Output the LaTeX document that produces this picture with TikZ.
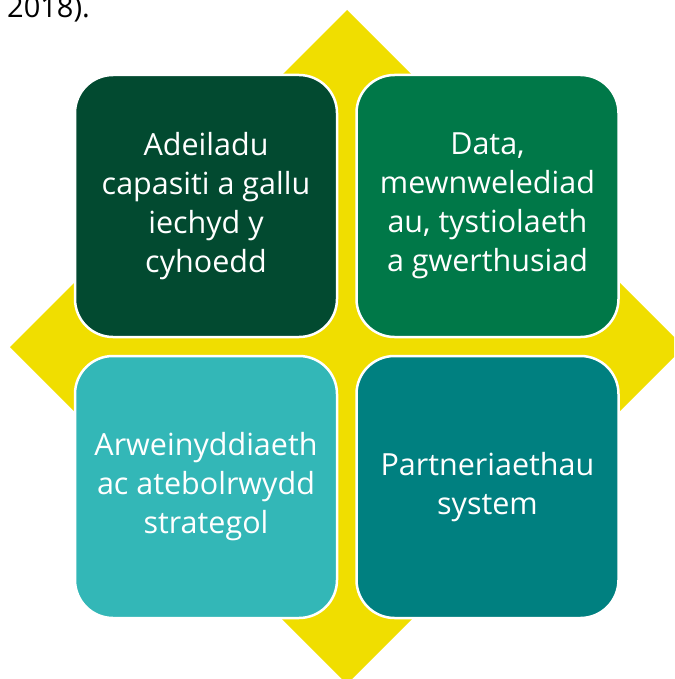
\documentclass[tikz,border=0pt]{standalone}
\usepackage{fontspec}
\setmainfont{Open Sans}
\definecolor{dia}{RGB}{240,222,0}
\definecolor{cTL}{RGB}{2,74,48}
\definecolor{cTR}{RGB}{0,120,72}
\definecolor{cBL}{RGB}{51,183,183}
\definecolor{cBR}{RGB}{0,128,128}
\tikzset{
  quad/.style={draw=white, line width=2.5pt, rounded corners=38pt,
    minimum width=262pt, minimum height=262pt, inner sep=0pt,
    text=white, align=center, font=\fontsize{30.5}{39}\selectfont},
}
\begin{document}
\begin{tikzpicture}[x=1pt,y=-1pt]
\useasboundingbox (0,0) rectangle (674,679);
\clip (0,0) rectangle (674,679);
\fill[dia] (347,10) -- (684,347) -- (347,684) -- (10,347) -- cycle;
\node[quad, fill=cTL] (tl) at (206,206) {Adeiladu\\capasiti a gallu\\iechyd y\\cyhoedd};
\node[quad, fill=cTR] (tr) at (487.5,206) {Data,\\mewnwelediad\\au, tystiolaeth\\a gwerthusiad};
\node[quad, fill=cBL] (bl) at (206,487) {Arweinyddiaeth\\ac atebolrwydd\\strategol};
\node[quad, fill=cBR] (br) at (487.5,487) {Partneriaethau\\system};
\node[anchor=base west, inner sep=0pt, font=\fontsize{29}{34}\selectfont] (yr) at (7,18) {2018).};
\end{tikzpicture}
\end{document}
